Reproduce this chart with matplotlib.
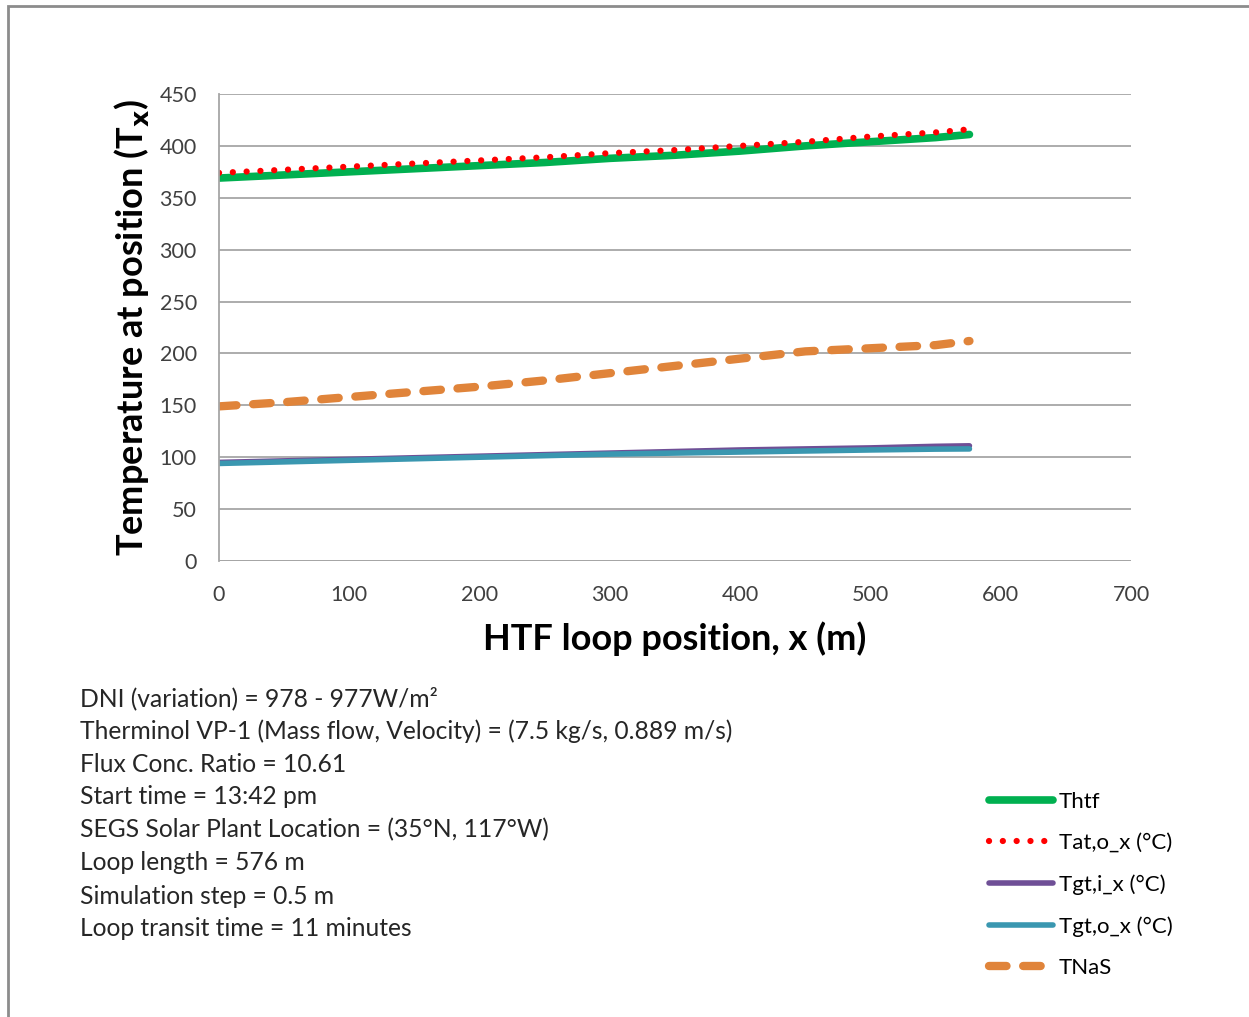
import numpy as np
import matplotlib.pyplot as plt
from matplotlib.patches import Rectangle

plt.rcParams['font.family'] = ['Lato', 'DejaVu Sans']

# loop position (m)
pos = [0, 50, 100, 150, 200, 250, 300, 350, 400, 450, 500, 550, 576]

t_htf = [369, 372, 375, 378, 381, 384, 388, 391, 395, 400, 404, 408, 411]
t_at_o = [374, 377, 380, 383, 386, 389, 393, 396, 400, 404, 409, 413, 416]
t_gt_i = [95, 96.5, 98, 99.5, 101, 102.5, 104, 105.5, 107, 108, 109, 110.5, 111]
t_gt_o = [94, 95.5, 97, 98.5, 100, 101.5, 103, 104, 105, 106, 107, 107.8, 108]
t_nas = [149, 153, 158, 163, 168, 174, 181, 188, 195, 202, 205, 208, 212]

x_ticks = [0, 100, 200, 300, 400, 500, 600, 700]
y_ticks = [0, 50, 100, 150, 200, 250, 300, 350, 400, 450]

notes = [
    "DNI (variation) = 978 - 977W/m\u00b2",
    "Therminol VP-1 (Mass flow, Velocity) = (7.5 kg/s, 0.889 m/s)",
    "Flux Conc. Ratio = 10.61",
    "Start time = 13:42 pm",
    "SEGS Solar Plant Location = (35\u00b0N, 117\u00b0W)",
    "Loop length = 576 m",
    "Simulation step = 0.5 m",
    "Loop transit time = 11 minutes",
]

W, H = 1249, 1017
fig = plt.figure(figsize=(W / 100, H / 100), dpi=100)

# outer frame (top and left edges only)
fig.patches.append(Rectangle((8 / W, -0.1), 1.2, 1 - 6 / H + 0.1, transform=fig.transFigure,
                             fill=False, edgecolor='#8c8c8c', linewidth=2))

ax = fig.add_axes([219 / W, 1 - 561 / H, (1131 - 219) / W, (561 - 94) / H])

l1, = ax.plot(pos, t_htf, color='#00b050', linewidth=5.5, solid_capstyle='round', label='Thtf')
l2, = ax.plot(pos, t_at_o, color='#ff0000', linewidth=4.5, linestyle=(0, (0.01, 2.2)),
              dash_capstyle='round', label='Tat,o_x (\u00b0C)')
l3, = ax.plot(pos, t_gt_i, color='#6f4f96', linewidth=4, solid_capstyle='round',
              label='Tgt,i_x (\u00b0C)')
l4, = ax.plot(pos, t_gt_o, color='#3a97b0', linewidth=4, solid_capstyle='round',
              label='Tgt,o_x (\u00b0C)')
l5, = ax.plot(pos, t_nas, color='#e0843a', linewidth=6, linestyle=(0, (2.1, 2.0)),
              dash_capstyle='round', label='TNaS')

ax.set_xlim(0, 700)
ax.set_ylim(0, 450)
ax.set_xticks(x_ticks)
ax.set_yticks(y_ticks)
ax.grid(axis='y', color='#a6a6a6', linewidth=1.3)
ax.set_axisbelow(True)
for side in ['top', 'right', 'bottom']:
    ax.spines[side].set_visible(False)
ax.spines['left'].set_color('#a6a6a6')
ax.spines['left'].set_linewidth(1.3)
ax.axhline(0, color='#a6a6a6', linewidth=1.3, zorder=0)
ax.tick_params(axis='both', length=0, labelsize=15.5, colors='#404040')
ax.tick_params(axis='x', pad=17)
ax.tick_params(axis='y', pad=16)

ax.set_xlabel('HTF loop position, x (m)', fontsize=26, fontweight='bold', labelpad=12)
ax.set_ylabel('Temperature at position (T$_\\mathbf{x}$)', fontsize=26, fontweight='bold', labelpad=6)

for i, line in enumerate(notes):
    fig.text(80 / W, 1 - (698 + i * 33) / H, line, fontsize=17.7, color='#262626',
             va='center', ha='left')

fig.legend(handles=[l1, l2, l3, l4, l5], loc='upper left',
           bbox_to_anchor=(969 / W, 1 - 772 / H), frameon=False, fontsize=16,
           handlelength=2.9, labelspacing=0.95, handletextpad=0.25)

fig.savefig('out.png', dpi=100, facecolor='white')
